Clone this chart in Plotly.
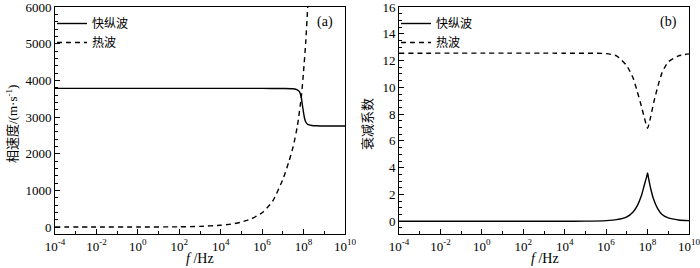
import plotly.graph_objects as go

# ---- data ----
# panel (a): phase velocity, m/s
fast_a_logf = [-4, 0, 4, 6, 7, 7.5, 7.7, 7.8, 7.88, 7.95, 8.0, 8.05, 8.1, 8.2, 8.4, 8.6, 9, 10]
fast_a_val = [3780, 3780, 3780, 3780, 3778, 3770, 3740, 3690, 3560, 3300, 3110, 2960, 2870, 2800, 2770, 2760, 2755, 2755]

therm_a_logf = [-4, -2, 0, 2, 3, 4, 4.5, 5, 5.5, 6, 6.5, 7, 7.3, 7.5, 7.7, 7.9, 8.0, 8.1, 8.2, 8.3]
therm_a_val = [0, 0, 1, 6, 18, 50, 80, 135, 230, 390, 700, 1300, 1800, 2200, 2750, 3600, 4250, 5000, 6000, 7200]

# panel (b): attenuation coefficient
fast_b_logf = [-4, 4, 5, 6, 6.5, 7, 7.3, 7.5, 7.7, 7.85, 7.95, 8.0, 8.05, 8.15, 8.3, 8.5, 8.7, 9.0, 9.5, 10]
fast_b_val = [0, 0, 0.01, 0.05, 0.12, 0.33, 0.7, 1.15, 1.9, 2.75, 3.3, 3.6, 3.2, 2.45, 1.6, 0.9, 0.5, 0.25, 0.1, 0.05]

therm_b_logf = [-4, 4, 6, 6.5, 7, 7.3, 7.5, 7.7, 7.85, 8.0, 8.15, 8.3, 8.5, 8.7, 9.0, 9.5, 10]
therm_b_val = [12.55, 12.55, 12.52, 12.35, 11.6, 10.7, 9.7, 8.6, 7.7, 6.95, 7.8, 8.9, 10.1, 11.1, 11.9, 12.35, 12.5]

x_tick_vals = [1e-4, 1e-2, 1e0, 1e2, 1e4, 1e6, 1e8, 1e10]
x_tick_text = ["10<sup>-4</sup>", "10<sup>-2</sup>", "10<sup>0</sup>", "10<sup>2</sup>",
               "10<sup>4</sup>", "10<sup>6</sup>", "10<sup>8</sup>", "10<sup>10</sup>"]
x_minor_vals = [1e-3, 1e-1, 1e1, 1e3, 1e5, 1e7, 1e9]

names = ["快纵波", "热波"]
panel_labels = ["(a)", "(b)"]
y_titles = ["相速度/(m·s<sup>-1</sup>)", "衰减系数"]
x_title = "<i>f</i> /Hz"

FONT = "Liberation Serif"
CJK = "Liberation Serif, Noto Sans CJK SC"

def f(logs):
    return [10 ** v for v in logs]

fig = go.Figure()
line_solid = dict(color="black", width=1.4, shape="spline", smoothing=0.6)
line_dash = dict(color="black", width=1.4, dash="5px,4px", shape="spline", smoothing=0.6)

fig.add_trace(go.Scatter(x=f(fast_a_logf), y=fast_a_val, mode="lines", line=line_solid,
                         name=names[0], xaxis="x", yaxis="y", legend="legend"))
fig.add_trace(go.Scatter(x=f(therm_a_logf), y=therm_a_val, mode="lines", line=line_dash,
                         name=names[1], xaxis="x", yaxis="y", legend="legend"))
fig.add_trace(go.Scatter(x=f(fast_b_logf), y=fast_b_val, mode="lines", line=line_solid,
                         name=names[0], xaxis="x2", yaxis="y2", legend="legend2"))
fig.add_trace(go.Scatter(x=f(therm_b_logf), y=therm_b_val, mode="lines", line=line_dash,
                         name=names[1], xaxis="x2", yaxis="y2", legend="legend2"))

W, H = 700, 268
ydom = [(H - 234) / H, (H - 7) / H]
xdom1 = [55 / W, 345 / W]
xdom2 = [399 / W, 689 / W]

def xaxis(dom, anchor):
    return dict(type="log", range=[-4, 10], domain=dom, anchor=anchor, automargin=False,
                tickvals=x_tick_vals, ticktext=x_tick_text, ticklabeloverflow="allow",
                ticks="inside", ticklen=5, tickwidth=1, tickcolor="black",
                minor=dict(tickvals=x_minor_vals, ticks="inside", ticklen=3, tickwidth=1, tickcolor="black"),
                showline=True, linecolor="black", linewidth=1, mirror=True,
                showgrid=False, zeroline=False,
                tickfont=dict(family=FONT, size=13, color="black"))

def yaxis(dom, anchor, rng, dtick, mdtick):
    return dict(range=rng, domain=dom, anchor=anchor, dtick=dtick, tick0=0, automargin=False,
                ticklabeloverflow="allow",
                ticks="inside", ticklen=5, tickwidth=1, tickcolor="black",
                minor=dict(dtick=mdtick, tick0=0, ticks="inside", ticklen=3, tickwidth=1, tickcolor="black"),
                showline=True, linecolor="black", linewidth=1, mirror=True,
                showgrid=False, zeroline=False,
                tickfont=dict(family=FONT, size=13, color="black"))

fig.update_layout(
    width=W, height=H, margin=dict(l=0, r=0, t=0, b=0, autoexpand=False),
    paper_bgcolor="white", plot_bgcolor="white",
    font=dict(family=CJK, color="black"),
    xaxis=xaxis(xdom1, "y"), yaxis=yaxis(ydom, "x", [-190, 6000], 1000, 200),
    xaxis2=xaxis(xdom2, "y2"), yaxis2=yaxis(ydom, "x2", [-0.95, 16], 2, 0.5),
    legend=dict(x=52 / W, y=(H - 9) / H, xanchor="left", yanchor="top", bgcolor="rgba(0,0,0,0)",
                font=dict(family=CJK, size=12, color="black"), tracegroupgap=0),
    legend2=dict(x=396 / W, y=(H - 9) / H, xanchor="left", yanchor="top", bgcolor="rgba(0,0,0,0)",
                 font=dict(family=CJK, size=12, color="black"), tracegroupgap=0),
    showlegend=True,
)

for i, (xl, xt, yt) in enumerate([(335, 200, 12), (679, 545, 367)]):
    fig.add_annotation(x=xl / W, y=(H - 22) / H, xref="paper", yref="paper", text=panel_labels[i],
                       showarrow=False, xanchor="right", yanchor="middle",
                       font=dict(family=FONT, size=14, color="black"))
    fig.add_annotation(x=yt / W, y=(H - 124) / H, xref="paper", yref="paper", text=y_titles[i],
                       showarrow=False, textangle=-90, xanchor="center", yanchor="middle",
                       font=dict(family=CJK, size=13, color="black"))
    fig.add_annotation(x=xt / W, y=(H - 258) / H, xref="paper", yref="paper", text=x_title,
                       showarrow=False, xanchor="center", yanchor="middle",
                       font=dict(family=FONT, size=14, color="black"))

fig.write_html("out.html", post_script="document.body.style.margin='0';",
               config={"displayModeBar": False})
